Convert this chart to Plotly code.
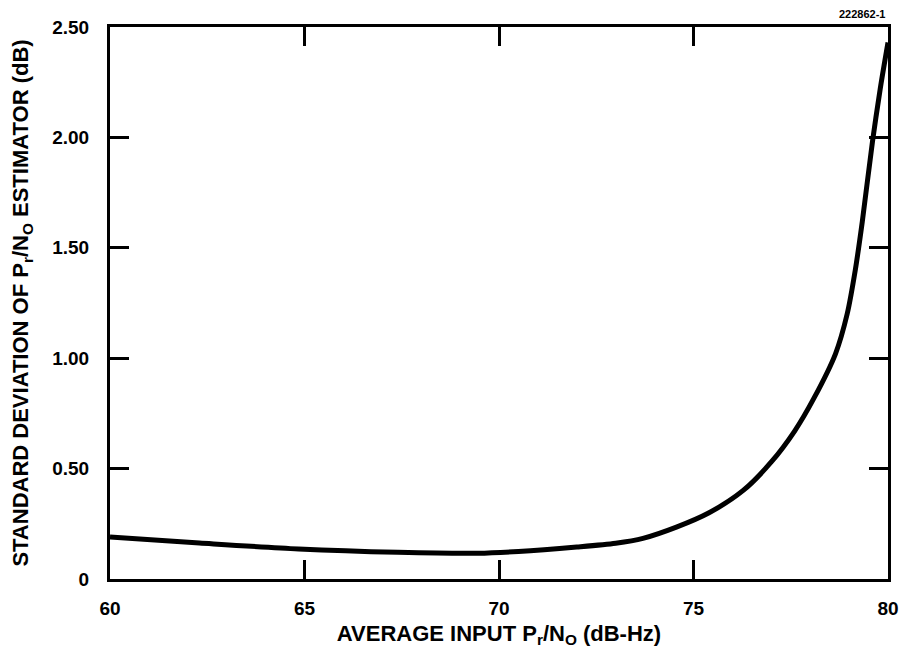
import plotly.graph_objects as go

# Estimator standard deviation versus average input Pr/No
input_db_hz = [60.0, 62.3, 64.85, 67.4, 69.45, 70.5, 72.0, 73.0, 73.7,
               74.56, 75.4, 76.27, 77.0, 77.6, 78.1, 78.65, 78.95, 79.16,
               79.34, 79.6, 79.8, 80.0]
std_dev_db = [0.19, 0.163, 0.136, 0.121, 0.117, 0.125, 0.145, 0.162, 0.184,
              0.235, 0.30, 0.40, 0.53, 0.67, 0.82, 1.02, 1.20, 1.40,
              1.62, 1.98, 2.22, 2.43]

x_ticks = [60, 65, 70, 75, 80]
y_ticks = [0, 0.5, 1.0, 1.5, 2.0, 2.5]
y_tick_labels = ["0", "0.50", "1.00", "1.50", "2.00", "2.50"]

font_family = "Liberation Sans, Arial, sans-serif"
tick_font = dict(family=font_family, size=19, color="black", weight="bold")
title_font = dict(family=font_family, size=22, color="black", weight="bold")

fig = go.Figure()
fig.add_trace(go.Scatter(
    x=input_db_hz, y=std_dev_db, mode="lines",
    line=dict(color="black", width=5, shape="spline", smoothing=0.8),
    hoverinfo="skip", showlegend=False,
))

axis_common = dict(
    showline=True, linecolor="black", linewidth=3, mirror="ticks",
    ticks="inside", ticklen=19, tickwidth=3, tickcolor="black",
    showgrid=False, zeroline=False, tickfont=tick_font,
)

fig.update_xaxes(
    range=[60, 80], tickvals=x_ticks, ticktext=[str(v) for v in x_ticks],
    ticklabelstandoff=10,
    title=dict(text="AVERAGE INPUT P<sub>r</sub>/N<sub>O</sub> (dB-Hz)",
               font=title_font, standoff=8),
    **axis_common,
)
fig.update_yaxes(
    range=[0, 2.5], tickvals=y_ticks, ticktext=y_tick_labels,
    ticklabelstandoff=14,
    title=dict(text="STANDARD DEVIATION OF P<sub>r</sub>/N<sub>O</sub> ESTIMATOR (dB)",
               font=title_font, standoff=18),
    **axis_common,
)

fig.add_annotation(
    text="222862-1", xref="paper", yref="paper", x=1.0, y=1.0,
    xanchor="right", yanchor="bottom", yshift=5, showarrow=False,
    font=dict(family=font_family, size=11, color="black", weight="bold"),
)

fig.update_layout(
    width=911, height=656,
    margin=dict(l=110, r=17, t=27, b=77),
    paper_bgcolor="white", plot_bgcolor="white",
)

fig.write_html("out.html")
